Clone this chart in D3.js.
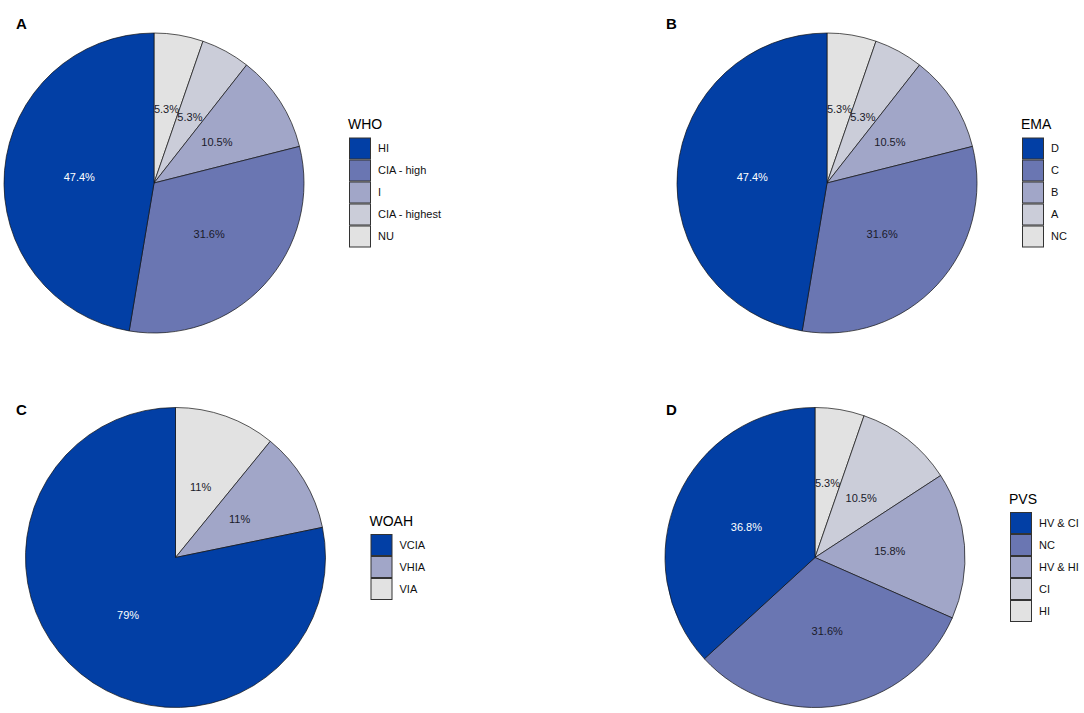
<!DOCTYPE html>
<html>
<head>
<meta charset="utf-8">
<script src="https://cdn.jsdelivr.net/npm/d3@7"></script>
<style>
  body { margin: 0; background: #fff; }
  svg { display: block; font-family: "Liberation Sans", Arial, sans-serif; }
</style>
</head>
<body>
<svg id="chart" width="1084" height="713"></svg>
<script>
// data, legend order (first = darkest)
var whoCats = ["HI", "CIA - high", "I", "CIA - highest", "NU"];
var whoVals = [47.4, 31.6, 10.5, 5.3, 5.3];

var emaCats = ["D", "C", "B", "A", "NC"];
var emaVals = [47.4, 31.6, 10.5, 5.3, 5.3];

var woahCats = ["VCIA", "VHIA", "VIA"];
var woahVals = [79, 11, 11];

var pvsCats = ["HV & CI", "NC", "HV & HI", "CI", "HI"];
var pvsVals = [36.8, 31.6, 15.8, 10.5, 5.3];

var pal5 = ["#023FA5", "#6A76B2", "#A1A6C8", "#CBCDD9", "#E2E2E2"];
var pal3 = ["#023FA5", "#A1A6C8", "#E2E2E2"];

var panels = [
  { tag: "A", title: "WHO",  cats: whoCats,  vals: whoVals,  pal: pal5, cx: 154,   cy: 183,   tx: 16,  ty: 29 },
  { tag: "B", title: "EMA",  cats: emaCats,  vals: emaVals,  pal: pal5, cx: 827,   cy: 183,   tx: 666, ty: 29 },
  { tag: "C", title: "WOAH", cats: woahCats, vals: woahVals, pal: pal3, cx: 175.5, cy: 557.5, tx: 16,  ty: 415 },
  { tag: "D", title: "PVS",  cats: pvsCats,  vals: pvsVals,  pal: pal5, cx: 815,   cy: 557.5, tx: 666, ty: 415 }
];

var r = 150;
var svg = d3.select("#chart");

var pie = d3.pie().sort(null).value(function (d) { return d.v; });
var arc = d3.arc().innerRadius(0).outerRadius(r);

function fmt(v) { return (Math.round(v * 10) / 10) + "%"; }

panels.forEach(function (p) {
  var rows = p.cats.map(function (c, i) { return { cat: c, v: p.vals[i], i: i }; });
  var color = d3.scaleOrdinal().domain(p.cats).range(p.pal);

  // panel tag
  svg.append("text")
    .attr("x", p.tx).attr("y", p.ty)
    .style("font-size", "15px").style("font-weight", "bold")
    .text(p.tag);

  var g = svg.append("g").attr("transform", "translate(" + p.cx + "," + p.cy + ")");

  // clockwise from 12 o'clock, last legend item first
  var slices = pie(rows.slice().reverse());

  g.selectAll("path").data(slices).enter().append("path")
    .attr("d", arc)
    .attr("fill", function (d) { return color(d.data.cat); })
    .attr("stroke", "#111")
    .attr("stroke-width", 0.7);

  g.selectAll("text").data(slices).enter().append("text")
    .attr("transform", function (d) { return "translate(" + arc.centroid(d) + ")"; })
    .attr("text-anchor", "middle")
    .attr("dy", "0.35em")
    .style("font-size", "11px")
    .attr("fill", function (d) { return d.data.i === 0 ? "#fff" : "#1a1a2a"; })
    .text(function (d) { return fmt(d.data.v); });

  // legend
  var key = 22;
  var lx = p.cx + r + 45;
  var ltop = p.cy - (19 + rows.length * key) / 2;
  var lg = svg.append("g").attr("transform", "translate(" + lx + "," + ltop + ")");

  lg.append("text")
    .attr("x", -1).attr("y", 10.5)
    .style("font-size", "14px")
    .text(p.title);

  var item = lg.selectAll("g.item").data(rows).enter().append("g")
    .attr("class", "item")
    .attr("transform", function (d) { return "translate(0," + (19 + d.i * key) + ")"; });

  item.append("rect")
    .attr("x", 0.5).attr("y", 0.5)
    .attr("width", key - 1).attr("height", key - 1)
    .attr("fill", function (d) { return color(d.cat); })
    .attr("stroke", "#333")
    .attr("stroke-width", 1);

  item.append("text")
    .attr("x", key + 7).attr("y", key / 2)
    .attr("dy", "0.36em")
    .style("font-size", "11px")
    .attr("fill", "#111")
    .text(function (d) { return d.cat; });
});
</script>
</body>
</html>
